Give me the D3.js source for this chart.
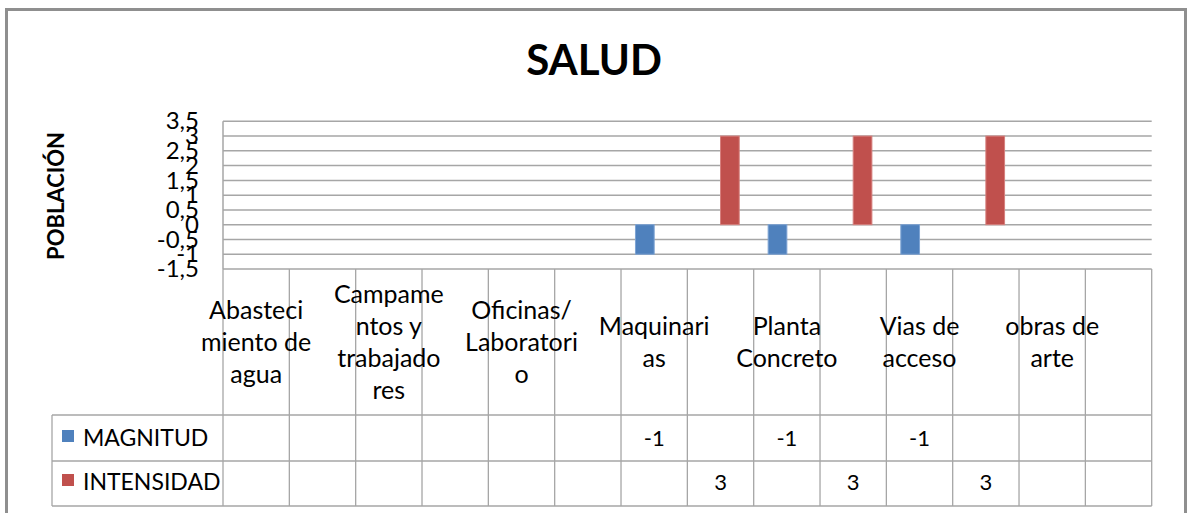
<!DOCTYPE html>
<html><head><meta charset="utf-8">
<script src="https://cdn.jsdelivr.net/npm/d3@7"></script>
<style>
html,body{margin:0;padding:0;background:#fff;overflow:hidden}
svg{display:block;font-family:Lato,'Open Sans',sans-serif}
</style></head><body>
<svg id="chart" width="1189" height="513"></svg>
<script>
// ---- data ----
const chartTitle = "SALUD";
const yAxisTitle = "POBLACIÓN";
const categories = ["Abastecimiento de agua","","Campamentos y trabajadores","","Oficinas/ Laboratorio","","Maquinarias","","Planta Concreto","","Vias de acceso","","obras de arte",""];
const categoryLines = [["Abasteci","miento de","agua"],[],["Campame","ntos y","trabajado","res"],[],["Oficinas/","Laboratori","o"],[],["Maquinari","as"],[],["Planta","Concreto"],[],["Vias de","acceso"],[],["obras de","arte"],[]];
const seriesNames = ["MAGNITUD","INTENSIDAD"];
const magnitud   = [null,null,null,null,null,null,-1,null,-1,null,-1,null,null,null];
const intensidad = [null,null,null,null,null,null,null,3,null,3,null,3,null,null];
const yTicks = [-1.5,-1,-0.5,0,0.5,1,1.5,2,2.5,3,3.5];
const seriesColors = ["#4F81BD","#C0504D"];
const seriesStroke = ["#7DA3D3","#D6807E"];

// ---- layout ----
const svg = d3.select("#chart");
const plot = {left:223, right:1151.7, top:121.3, bottom:269};
const tbl = {left:52, catBottom:415, row1Bottom:461, row2Bottom:506};
const gridColor = "#a6a6a6";
const series = [magnitud, intensidad];
const fmt = d => String(d).replace(".", ",");

const x = d3.scaleBand().domain(d3.range(categories.length))
  .range([plot.left, plot.right]).paddingInner(0.436).paddingOuter(0.218);
const xs = d3.scaleBand().domain([0,1]).range([0, x.bandwidth()]);
const y = d3.scaleLinear().domain([yTicks[0], yTicks[yTicks.length-1]]).range([plot.bottom, plot.top]);
const step = x.step();
const colLeft = i => plot.left + i*step;
const colMid = i => plot.left + (i+0.5)*step;

// outer border
svg.append("rect").attr("x",6.5).attr("y",9.5).attr("width",1179).attr("height",520)
  .attr("fill","#fff").attr("stroke","#8f8f8f").attr("stroke-width",3);

// title
svg.append("text").attr("x",594).attr("y",75).attr("text-anchor","middle")
  .attr("font-size",42).attr("font-weight","bold").attr("fill","#000").text(chartTitle);

// y axis title
svg.append("text").attr("transform","translate(64,196) rotate(-90)")
  .attr("text-anchor","middle").attr("font-size",22).attr("font-weight","bold")
  .attr("fill","#000").text(yAxisTitle);

// gridlines
svg.append("g").selectAll("line").data(yTicks).join("line")
  .attr("x1",plot.left).attr("x2",plot.right)
  .attr("y1",d=>y(d)).attr("y2",d=>y(d))
  .attr("stroke",gridColor).attr("stroke-width",1.5);

// y axis
const yAxis = d3.axisLeft(y).tickValues(yTicks).tickFormat(fmt).tickSize(0).tickPadding(24);
const gy = svg.append("g").attr("transform",`translate(${plot.left},0)`).call(yAxis);
gy.select(".domain").remove();
gy.selectAll("text").attr("font-size",24).attr("font-family","Lato,'Open Sans',sans-serif").attr("fill","#000");
svg.append("line").attr("x1",plot.left).attr("x2",plot.left).attr("y1",plot.top).attr("y2",plot.bottom)
  .attr("stroke",gridColor).attr("stroke-width",1.5);

// bars
series.forEach((vals,s)=>{
  svg.append("g").selectAll("rect")
    .data(vals.map((v,i)=>({v,i})).filter(d=>d.v!==null))
    .join("rect")
    .attr("x",d=>x(d.i)+xs(s)).attr("width",xs.bandwidth())
    .attr("y",d=>y(Math.max(0,d.v))).attr("height",d=>Math.abs(y(d.v)-y(0)))
    .attr("fill",seriesColors[s]).attr("stroke",seriesStroke[s]).attr("stroke-width",1);
});

// data table lines
const tg = svg.append("g").attr("stroke",gridColor).attr("stroke-width",1.3);
tg.selectAll("line.v").data(d3.range(categories.length+1)).join("line")
  .attr("x1",i=>colLeft(i)).attr("x2",i=>colLeft(i))
  .attr("y1",plot.bottom).attr("y2",tbl.row2Bottom);
[tbl.catBottom, tbl.row1Bottom, tbl.row2Bottom].forEach(yy=>{
  tg.append("line").attr("x1",tbl.left).attr("x2",plot.right).attr("y1",yy).attr("y2",yy);
});
tg.append("line").attr("x1",tbl.left).attr("x2",tbl.left).attr("y1",tbl.catBottom).attr("y2",tbl.row2Bottom);

// category labels
const catCenter = (plot.bottom + tbl.catBottom)/2;
const lh = 32;
categoryLines.forEach((lines,i)=>{
  const n = lines.length;
  lines.forEach((ln,k)=>{
    svg.append("text").attr("x",colMid(i))
      .attr("y",catCenter + (k-(n-1)/2)*lh + 8.5)
      .attr("text-anchor","middle").attr("font-size",25).attr("fill","#000").text(ln);
  });
});

// legend + values
const rowBase = [446, 490];
seriesNames.forEach((name,s)=>{
  svg.append("rect").attr("x",62).attr("y",rowBase[s]-16).attr("width",12).attr("height",12)
    .attr("fill",seriesColors[s]);
  svg.append("text").attr("x",83).attr("y",rowBase[s]).attr("font-size",23).attr("fill","#000").text(name);
  series[s].forEach((v,i)=>{
    if(v===null) return;
    svg.append("text").attr("x",colMid(i)).attr("y",rowBase[s]).attr("text-anchor","middle")
      .attr("font-size",22).attr("fill","#000").text(fmt(v));
  });
});
</script>
</body></html>
